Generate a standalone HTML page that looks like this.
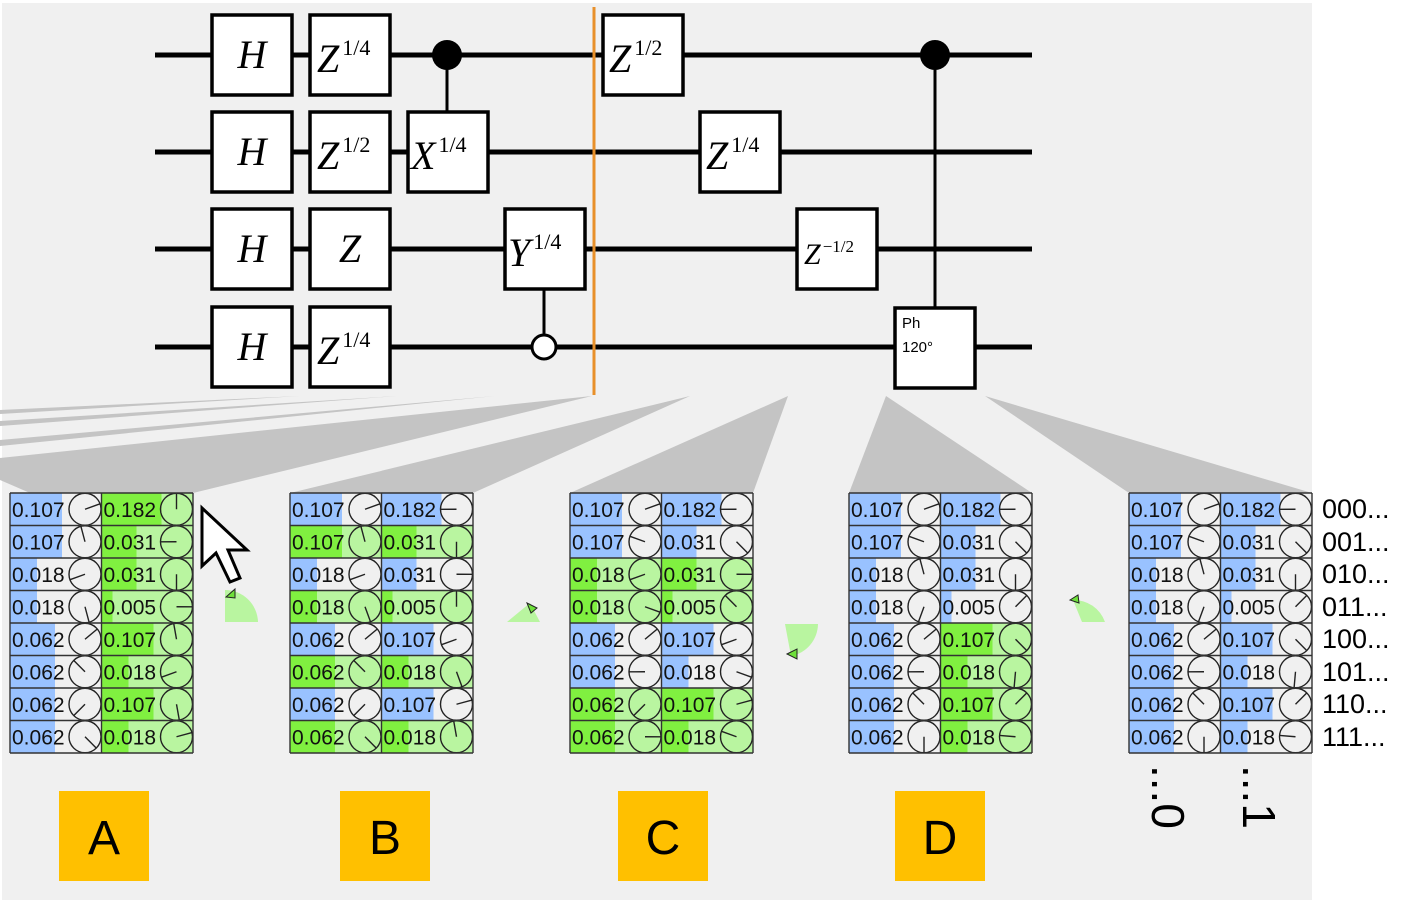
<!DOCTYPE html>
<html><head><meta charset="utf-8">
<style>
html,body{margin:0;padding:0;background:#fff;}
svg{display:block;}
.g{font-family:"Liberation Serif",serif;font-style:italic;fill:#000;}
.t{font-family:"Liberation Sans",sans-serif;}
</style></head>
<body>
<svg id="s" width="1405" height="906" xmlns="http://www.w3.org/2000/svg">
<rect x="2" y="3" width="1310" height="897" fill="#f0f0f0"/>
<g fill="#c4c4c4">
<polygon points="592,396 193,493 30,493 0,480 0,458"/>
<polygon points="495,396 0,440 0,446"/>
<polygon points="397,396 0,421 0,426"/>
<polygon points="300,396 0,410 0,414"/>
<polygon points="690,396 473,493 290,493"/>
<polygon points="788,396 753,493 570,493"/>
<polygon points="886,396 849,493 1032,493"/>
<polygon points="985,396 1129,493 1312,493"/>
</g>
<g stroke="#000" stroke-width="5">
<line x1="155" y1="55" x2="1032" y2="55"/>
<line x1="155" y1="152" x2="1032" y2="152"/>
<line x1="155" y1="249" x2="1032" y2="249"/>
<line x1="155" y1="347" x2="1032" y2="347"/>
</g>
<g stroke="#000" stroke-width="3">
<line x1="447" y1="55" x2="447" y2="112"/>
<line x1="544" y1="289" x2="544" y2="336"/>
<line x1="935" y1="55" x2="935" y2="308"/>
</g>
<circle cx="447" cy="55" r="15" fill="#000"/>
<circle cx="935" cy="55" r="15" fill="#000"/>
<circle cx="544" cy="347" r="12" fill="#fff" stroke="#000" stroke-width="3"/>
<g fill="#fff" stroke="#000" stroke-width="3.5">
<rect x="212" y="15" width="80" height="80"/><rect x="212" y="112" width="80" height="80"/>
<rect x="212" y="209" width="80" height="80"/><rect x="212" y="307" width="80" height="80"/>
<rect x="310" y="15" width="80" height="80"/><rect x="310" y="112" width="80" height="80"/>
<rect x="310" y="209" width="80" height="80"/><rect x="310" y="307" width="80" height="80"/>
<rect x="408" y="112" width="80" height="80"/><rect x="505" y="209" width="80" height="80"/>
<rect x="603" y="15" width="80" height="80"/><rect x="700" y="112" width="80" height="80"/>
<rect x="797" y="209" width="80" height="80"/><rect x="895" y="308" width="80" height="80"/>
</g>
<g class="g" font-size="40" text-anchor="middle">
<text x="252" y="68">H</text><text x="252" y="165">H</text><text x="252" y="262">H</text><text x="252" y="360">H</text>
<text x="350" y="262">Z</text>
</g>
<g class="g" font-size="40">
<text x="317" y="72">Z<tspan font-size="22" dy="-17" dx="3" font-style="normal">1/4</tspan></text>
<text x="317" y="169">Z<tspan font-size="22" dy="-17" dx="3" font-style="normal">1/2</tspan></text>
<text x="317" y="364">Z<tspan font-size="22" dy="-17" dx="3" font-style="normal">1/4</tspan></text>
<text x="411" y="169">X<tspan font-size="22" dy="-17" dx="3" font-style="normal">1/4</tspan></text>
<text x="508" y="266">Y<tspan font-size="22" dy="-17" dx="3" font-style="normal">1/4</tspan></text>
<text x="609" y="72">Z<tspan font-size="22" dy="-17" dx="3" font-style="normal">1/2</tspan></text>
<text x="706" y="169">Z<tspan font-size="22" dy="-17" dx="3" font-style="normal">1/4</tspan></text>
<text x="804" y="264" font-size="30">Z<tspan font-size="17" dy="-12" dx="2" font-style="normal">−1/2</tspan></text>
</g>
<text x="902" y="328" class="t" font-size="15">Ph</text>
<text x="902" y="352" class="t" font-size="15">120°</text>
<line x1="594" y1="7" x2="594" y2="395" stroke="#e8902a" stroke-width="3"/>
<g id="tables"></g>
<g fill="#b9f5a0">
<path d="M225,622 L225,590 A33,33 0 0 1 258,622 Z"/>
<path d="M507,622 L530,603 L540,622 Z"/>
<path d="M785,624 L818,624 A33,33 0 0 1 791,656 Z"/>
<path d="M1073,600 A33,33 0 0 1 1105,622 L1082,622 Z"/>
</g>
<g fill="#6ee03a" stroke="#222" stroke-width="1">
<polygon points="226,597 235,589 235,598"/>
<polygon points="527,603 537,608 531,613"/>
<polygon points="787,654 797,649 797,659"/>
<polygon points="1070,600 1078,595 1079,603"/>
</g>
<polygon points="202,508 202,566 216,553 230,582 240,578 228,550 247,550" fill="#fff" stroke="#000" stroke-width="3"/>
<g fill="#ffc000"><rect x="59" y="791" width="90" height="90"/><rect x="340" y="791" width="90" height="90"/><rect x="618" y="791" width="90" height="90"/><rect x="895" y="791" width="90" height="90"/></g>
<g class="t" font-size="48" text-anchor="middle" fill="#000">
<text x="104" y="854">A</text><text x="385" y="854">B</text><text x="663" y="854">C</text><text x="940" y="854">D</text>
</g>
<g class="t" font-size="27" fill="#000">
<text x="1322" y="518">000...</text><text x="1322" y="551">001...</text><text x="1322" y="583">010...</text><text x="1322" y="616">011...</text>
<text x="1322" y="648">100...</text><text x="1322" y="681">101...</text><text x="1322" y="713">110...</text><text x="1322" y="746">111...</text>
</g>
<g class="t" font-size="46" fill="#000">
<text transform="translate(1152,765) rotate(90)">...0</text>
<text transform="translate(1243,765) rotate(90)">...1</text>
</g>
</svg>
<script>
(function(){
var W={"0.005":11,"0.018":27,"0.031":35,"0.062":45,"0.107":52,"0.182":60};
var L=["0.107","0.107","0.018","0.018","0.062","0.062","0.062","0.062"];
var R=["0.182","0.031","0.031","0.005","0.107","0.018","0.107","0.018"];
var T=[
 {x:10,gl:[0,0,0,0,0,0,0,0],gr:[1,1,1,1,1,1,1,1],al:[20,105,200,-75,40,135,225,-45],ar:[90,180,-90,0,100,200,-80,15]},
 {x:290,gl:[0,1,0,1,0,1,0,1],gr:[0,1,0,1,0,1,0,1],al:[20,105,200,-70,40,135,225,-45],ar:[180,-90,0,90,200,-70,15,100]},
 {x:570,gl:[0,0,1,1,0,0,1,1],gr:[0,0,1,1,0,0,1,1],al:[20,160,200,-20,40,180,225,0],ar:[180,-45,0,135,200,-20,15,160]},
 {x:849,gl:[0,0,0,0,0,0,0,0],gr:[0,0,0,0,1,1,1,1],al:[20,160,105,-110,40,180,135,-90],ar:[180,-45,-90,45,-45,-95,45,175]},
 {x:1129,gl:[0,0,0,0,0,0,0,0],gr:[0,0,0,0,0,0,0,0],al:[20,160,105,-110,40,180,135,-90],ar:[180,-45,-90,45,-45,-95,45,175]}
];
var h="",RH=32.5,CW=91.5,Y0=493;
T.forEach(function(t){
 for(var c=0;c<2;c++){
  var cx=t.x+c*CW;
  for(var r=0;r<8;r++){
   var y=Y0+r*RH, g=c?t.gr[r]:t.gl[r], v=c?R[r]:L[r], a=c?t.ar[r]:t.al[r];
   h+='<rect x="'+cx+'" y="'+y+'" width="'+CW+'" height="'+RH+'" fill="'+(g?'#b9f5a0':'#f0f0f0')+'"/>';
   h+='<rect x="'+cx+'" y="'+y+'" width="'+W[v]+'" height="'+RH+'" fill="'+(g?'#80f040':'#99c2ff')+'"/>';
   var ccx=cx+CW-16.5,ccy=y+RH/2,rad=a*Math.PI/180;
   h+='<circle cx="'+ccx+'" cy="'+ccy+'" r="16" fill="none" stroke="#222" stroke-width="1.4"/>';
   h+='<line x1="'+ccx+'" y1="'+ccy+'" x2="'+(ccx+16*Math.cos(rad)).toFixed(1)+'" y2="'+(ccy-16*Math.sin(rad)).toFixed(1)+'" stroke="#222" stroke-width="1.4"/>';
   h+='<text x="'+(cx+2)+'" y="'+(y+24)+'" font-family="Liberation Sans,sans-serif" font-size="21" fill="#111">'+v+'</text>';
  }
 }
 for(var r=0;r<=8;r++)h+='<line x1="'+t.x+'" y1="'+(Y0+r*RH)+'" x2="'+(t.x+2*CW)+'" y2="'+(Y0+r*RH)+'" stroke="#333" stroke-width="1.4"/>';
 for(var c=0;c<=2;c++)h+='<line x1="'+(t.x+c*CW)+'" y1="'+Y0+'" x2="'+(t.x+c*CW)+'" y2="'+(Y0+8*RH)+'" stroke="#333" stroke-width="1.4"/>';
});
document.getElementById("tables").innerHTML=h;
})();
</script>
</body></html>
